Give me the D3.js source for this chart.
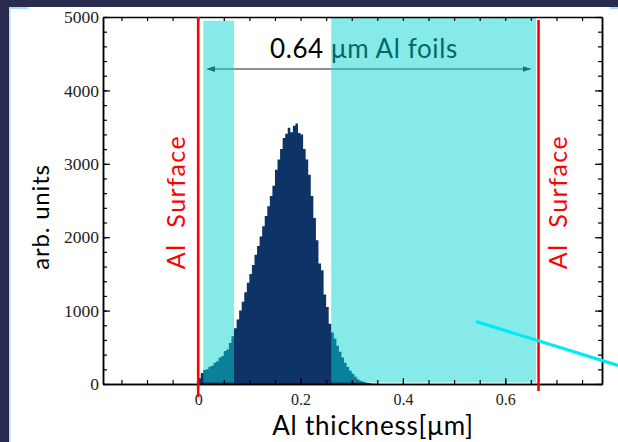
<!DOCTYPE html>
<html>
<head>
<meta charset="utf-8">
<script src="https://cdn.jsdelivr.net/npm/d3@7"></script>
<style>
  html, body { margin: 0; padding: 0; background: #2b2a4f; }
  svg { display: block; }
</style>
</head>
<body>
<svg id="chart" width="618" height="442"></svg>
<script>
// Histogram of implanted depth in the Al foil stack (bin width 0.005 µm, starting at 0)
const binWidth = 0.005;
const counts = [
  80, 150, 190, 200, 235, 250, 290, 310, 360, 380,
  450, 470, 560, 650, 760, 880, 1000, 1120, 1250, 1380,
  1500, 1620, 1760, 1880, 2010, 2150, 2290, 2420, 2560, 2700,
  2920, 3060, 3200, 3350, 3410, 3490, 3430, 3520, 3550, 3420,
  3400, 3200, 3060, 2850, 2560, 2260, 1960, 1640, 1550, 1220,
  1050, 820, 700, 620, 520, 440, 360, 290, 230, 180,
  140, 100, 65, 45, 30, 20, 12, 8, 5, 3
];

// Foil regions (µm) and their top edge (arb. units)
const foilStarts = [0.01, 0.26];
const foilEnds = [0.07, 0.66];
const foilTops = [4950, 5000];

// Al surface positions (µm)
const surfaces = [0, 0.665];

// Axis ticks
const xMajorTicks = [0, 0.2, 0.4, 0.6];
const xTickLabels = ["0", "0.2", "0.4", "0.6"];
const xMinorTicks = [-0.15, -0.1, -0.05, 0, 0.05, 0.1, 0.15, 0.2, 0.25, 0.3, 0.35, 0.4, 0.45, 0.5, 0.55, 0.6, 0.65, 0.7, 0.75];
const yMajorTicks = [0, 1000, 2000, 3000, 4000, 5000];
const yTickLabels = ["0", "1000", "2000", "3000", "4000", "5000"];
const yMinorTicks = d3.range(0, 5001, 200);

const W = 618, H = 442;
const plot = { left: 103, right: 602, top: 17, bottom: 384 };

const svg = d3.select("#chart");

// slide background and white panel
svg.append("rect").attr("width", W).attr("height", H).attr("fill", "#2b2a4f");
svg.append("rect").attr("x", 9).attr("y", 7).attr("width", W - 9).attr("height", H - 7).attr("fill", "#ffffff");
svg.append("rect").attr("x", 9).attr("y", 7).attr("width", 1.5).attr("height", H - 7).attr("fill", "#a9dfe6");
svg.append("rect").attr("x", 9).attr("y", 7).attr("width", 19).attr("height", 2).attr("fill", "#a9dfe6");
svg.append("rect").attr("x", 610).attr("y", 7).attr("width", 8).attr("height", 2).attr("fill", "#a9dfe6");

const x = d3.scaleLinear().domain([-0.186, 0.789]).range([plot.left, plot.right]);
const y = d3.scaleLinear().domain([0, 5000]).range([plot.bottom, plot.top]);

// histogram as a stepped area
const bins = counts.map((c, i) => ({ x0: i * binWidth, v: c }));
bins.push({ x0: counts.length * binWidth, v: 0 });
const area = d3.area()
  .x(d => x(d.x0))
  .y0(y(0))
  .y1(d => y(d.v))
  .curve(d3.curveStepAfter);
svg.append("path").datum(bins).attr("d", area).attr("fill", "#0e3467");

const sans = "Lato, 'Open Sans', sans-serif";

// annotation: foil thickness
const ann = svg.append("g");
ann.append("text")
  .attr("x", 270).attr("y", 58)
  .attr("font-family", sans)
  .attr("font-size", 26)
  .attr("letter-spacing", 0.6)
  .attr("fill", "#000")
  .text("0.64 μm Al foils");

const defs = svg.append("defs");
defs.append("marker")
  .attr("id", "arrowHead").attr("viewBox", "0 0 10 10")
  .attr("refX", 9).attr("refY", 5)
  .attr("markerWidth", 7).attr("markerHeight", 7)
  .attr("orient", "auto-start-reverse")
  .append("path").attr("d", "M0,1.5 L10,5 L0,8.5 Z").attr("fill", "#222");
ann.append("line")
  .attr("x1", x(0.018)).attr("x2", x(0.649))
  .attr("y1", 69).attr("y2", 69)
  .attr("stroke", "#222").attr("stroke-width", 1.2)
  .attr("marker-start", "url(#arrowHead)")
  .attr("marker-end", "url(#arrowHead)");

// translucent foil bands over everything beneath
foilStarts.forEach((s, i) => {
  svg.append("rect")
    .attr("x", x(s)).attr("width", x(foilEnds[i]) - x(s))
    .attr("y", y(foilTops[i])).attr("height", y(0) - y(foilTops[i]) - 1.5)
    .attr("fill", "rgb(6,212,208)").attr("fill-opacity", 0.487);
});

// axes: ticks point inward on all four sides
const tickFont = "'Liberation Serif', 'Times New Roman', serif";
function styleAxis(size) {
  return g => {
    g.selectAll("path").attr("stroke", "#000").attr("stroke-width", 1.5);
    g.selectAll("line").attr("stroke", "#000").attr("stroke-width", 1.2);
    g.selectAll("text").attr("font-family", tickFont).attr("font-size", size).attr("fill", "#222");
  };
}

svg.append("g").attr("transform", `translate(0,${plot.bottom})`)
  .call(d3.axisBottom(x).tickValues(xMinorTicks).tickSize(-4).tickFormat("").tickSizeOuter(0))
  .call(styleAxis(16));
svg.append("g").attr("transform", `translate(0,${plot.bottom})`)
  .call(d3.axisBottom(x).tickValues(xMajorTicks).tickSize(-6).tickPadding(10)
    .tickFormat((d, i) => xTickLabels[i]).tickSizeOuter(0))
  .call(styleAxis(16));
svg.append("g").attr("transform", `translate(0,${plot.top})`)
  .call(d3.axisTop(x).tickValues(xMinorTicks).tickSize(-4).tickFormat("").tickSizeOuter(0))
  .call(styleAxis(16));

svg.append("g").attr("transform", `translate(${plot.left},0)`)
  .call(d3.axisLeft(y).tickValues(yMinorTicks).tickSize(-4).tickFormat("").tickSizeOuter(0))
  .call(styleAxis(17));
svg.append("g").attr("transform", `translate(${plot.left},0)`)
  .call(d3.axisLeft(y).tickValues(yMajorTicks).tickSize(-7).tickPadding(4)
    .tickFormat((d, i) => yTickLabels[i]).tickSizeOuter(0))
  .call(styleAxis(17.5));
svg.append("g").attr("transform", `translate(${plot.right},0)`)
  .call(d3.axisRight(y).tickValues(yMinorTicks).tickSize(-4).tickFormat("").tickSizeOuter(0))
  .call(styleAxis(17));
svg.append("g").attr("transform", `translate(${plot.right},0)`)
  .call(d3.axisRight(y).tickValues(yMajorTicks).tickSize(-7).tickFormat("").tickSizeOuter(0))
  .call(styleAxis(17));

// Al surface markers
const surfTops = [17, 20];
const surfBottoms = [397, 391];
surfaces.forEach((s, i) => {
  svg.append("line")
    .attr("x1", x(s)).attr("x2", x(s))
    .attr("y1", surfTops[i]).attr("y2", surfBottoms[i])
    .attr("stroke", "#ff0000").attr("stroke-width", 2.6);
});
const surfLabelX = [185, 567];
surfLabelX.forEach(lx => {
  svg.append("text")
    .attr("transform", `translate(${lx},202) rotate(-90)`)
    .attr("text-anchor", "middle")
    .attr("font-family", sans)
    .attr("font-size", 25)
    .attr("letter-spacing", 1.5)
    .attr("fill", "#ff0000")
    .attr("xml:space", "preserve")
    .style("white-space", "pre")
    .text("Al  Surface");
});

// axis titles
svg.append("text")
  .attr("x", 373).attr("y", 435)
  .attr("text-anchor", "middle")
  .attr("font-family", sans)
  .attr("font-size", 26)
  .attr("letter-spacing", 0.8)
  .attr("fill", "#000")
  .text("Al thickness[μm]");
svg.append("text")
  .attr("transform", "translate(49,217) rotate(-90)")
  .attr("text-anchor", "middle")
  .attr("font-family", sans)
  .attr("font-size", 24)
  .attr("letter-spacing", 0.8)
  .attr("fill", "#000")
  .text("arb. units");

// pointer line across the lower right
svg.append("line")
  .attr("x1", 476).attr("y1", 321.5).attr("x2", 618).attr("y2", 365.5)
  .attr("stroke", "#00eaf2").attr("stroke-width", 3.2);
</script>
</body>
</html>
